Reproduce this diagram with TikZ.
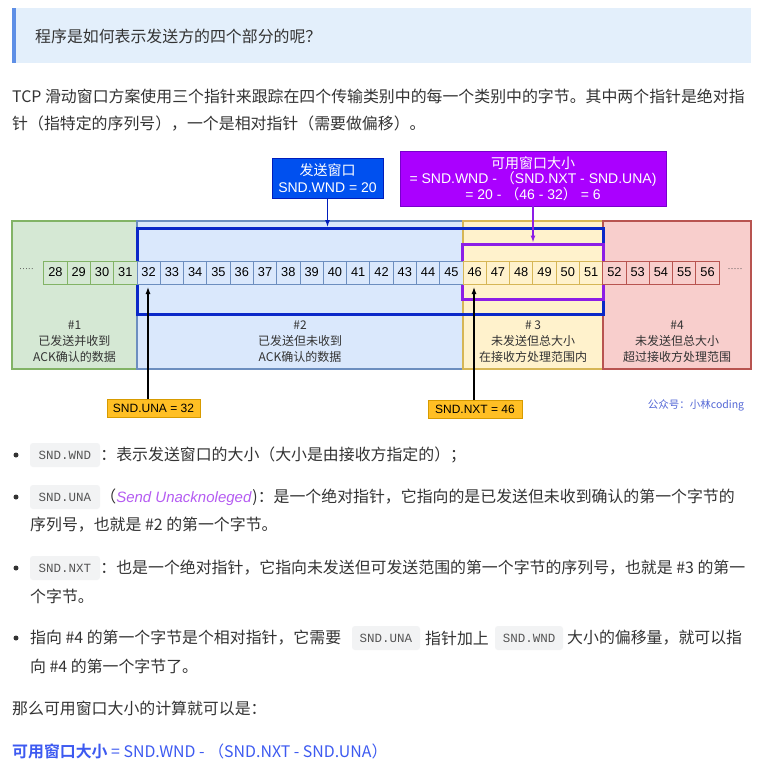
\documentclass[tikz,border=0pt]{standalone}
\usepackage{fontspec}
\setmainfont{Noto Sans CJK SC}[BoldFont={Noto Sans CJK SC Bold}]
\newfontfamily\cjk{Noto Sans CJK SC}[BoldFont={Noto Sans CJK SC Bold}]
\newfontfamily\arialf{Liberation Sans}
\newfontfamily\codef{Liberation Mono}
\usetikzlibrary{arrows.meta}
\newcommand\setfs[1]{\fontsize{#1}{#1}\selectfont}
\definecolor{bodytxt}{HTML}{333333}
\definecolor{hdrbg}{HTML}{E3EFFB}
\definecolor{hdrbar}{HTML}{5E8FE6}
\definecolor{gF}{HTML}{D5E8D4}\definecolor{gD}{HTML}{82B366}
\definecolor{bF}{HTML}{DAE8FC}\definecolor{bD}{HTML}{6C8EBF}
\definecolor{yF}{HTML}{FFF2CC}\definecolor{yD}{HTML}{D6B656}
\definecolor{rF}{HTML}{F8CECC}\definecolor{rD}{HTML}{B85450}
\definecolor{wndblue}{HTML}{0A28C8}
\definecolor{wndF}{HTML}{0050EF}\definecolor{wndD}{HTML}{001DBC}
\definecolor{purp}{HTML}{8C1EE6}
\definecolor{purF}{HTML}{AA00FF}\definecolor{purD}{HTML}{7700CC}
\definecolor{orF}{HTML}{FFBF24}\definecolor{orD}{HTML}{D79B00}
\definecolor{wm}{HTML}{5468D6}
\definecolor{codebg}{HTML}{F2F3F4}
\definecolor{codetxt}{HTML}{555555}
\definecolor{ital}{HTML}{B55CF2}
\definecolor{lastc}{HTML}{3D5AF1}
\begin{document}
\begin{tikzpicture}[x=1pt,y=-1pt,
  body/.style={anchor=west,inner sep=0pt,font=\setfs{15.9}\cjk,text=bodytxt},
  codebox/.style={fill=codebg,rounded corners=3pt,inner sep=0pt,minimum height=24pt,font=\setfs{12.5}\codef,text=codetxt},
  bulletdot/.style={circle,fill=bodytxt,inner sep=0pt,minimum size=5pt},
  region/.style={inner sep=0pt,line width=1.2pt},
  cellbox/.style={minimum width=23.29pt,minimum height=23pt,inner sep=0pt,font=\setfs{12.8}\arialf,text=black,line width=0.9pt},
  rtext/.style={align=center,inner sep=0pt,font=\fontsize{12}{16}\selectfont\cjk,text=bodytxt},
  lbl/.style={inner sep=0pt,text=white,align=center,line width=0.8pt},
  orlbl/.style={inner sep=0pt,fill=orF,draw=orD,line width=0.8pt,font=\setfs{12}\arialf,minimum height=18pt},
  ptr/.style={-{Latex[length=7pt,width=5pt]},line width=1.2pt,black},
  dots/.style={inner sep=0pt,font=\setfs{9}\arialf,text=black!70}
]
\useasboundingbox (0,0) rectangle (759,769);
\fill[white] (0,0) rectangle (759,769);
% header
\fill[hdrbg] (12,8) rectangle (751,63);
\fill[hdrbar] (12,8) rectangle (15.5,63);
\node[body] (hdr) at (35,36) {程序是如何表示发送方的四个部分的呢？};
\node[body] (p1) at (12,96) {TCP 滑动窗口方案使用三个指针来跟踪在四个传输类别中的每一个类别中的字节。其中两个指针是绝对指};
\node[body] (p2) at (12,124) {针（指特定的序列号），一个是相对指针（需要做偏移）。};
% regions
\node[region,fill=gF,draw=gD,minimum width=125pt,minimum height=148pt] (r1) at (74.5,295) {};
\node[region,fill=bF,draw=bD,minimum width=326pt,minimum height=148pt] (r2) at (300,295) {};
\node[region,fill=yF,draw=yD,minimum width=140pt,minimum height=148pt] (r3) at (533,295) {};
\node[region,fill=rF,draw=rD,minimum width=148pt,minimum height=148pt] (r4) at (677,295) {};
% window boxes
\node[draw=wndblue,line width=3pt,inner sep=0pt,minimum width=466pt,minimum height=85.5pt] (wnd) at (370,271.25) {};
\node[draw=purp,line width=3pt,inner sep=0pt,minimum width=140.5pt,minimum height=55pt] (avail) at (532.75,271.5) {};
% cells
\foreach \n in {28,...,31} \node[cellbox,fill=gF,draw=gD] (c\n) at ({55.445+(\n-28)*23.29},272.5) {\n};
\foreach \n in {32,...,45} \node[cellbox,fill=bF,draw=bD] (c\n) at ({55.445+(\n-28)*23.29},272.5) {\n};
\foreach \n in {46,...,51} \node[cellbox,fill=yF,draw=yD] (c\n) at ({55.445+(\n-28)*23.29},272.5) {\n};
\foreach \n in {52,...,56} \node[cellbox,fill=rF,draw=rD] (c\n) at ({55.445+(\n-28)*23.29},272.5) {\n};
\node[dots] (dl) at (26.5,270) {·····};
\node[dots] (dr) at (735,270) {·····};
% region texts
\node[rtext] (t1) at (74.5,342) {\#1\\已发送并收到\\ACK确认的数据};
\node[rtext] (t2) at (300,342) {\#2\\已发送但未收到\\ACK确认的数据};
\node[rtext] (t3) at (533,342) {\# 3\\未发送但总大小\\在接收方处理范围内};
\node[rtext] (t4) at (677,342) {\#4\\未发送但总大小\\超过接收方处理范围};
% labels
\node[lbl,fill=wndF,draw=wndD,minimum width=111pt,minimum height=40pt,font=\fontsize{14}{17}\selectfont\arialf] (wndlbl) at (327.5,178) {{\cjk 发送窗口}\\SND.WND = 20};
\node[lbl,fill=purF,draw=purD,minimum width=266pt,minimum height=55pt,font=\fontsize{14}{15.5}\selectfont\arialf] (availlbl) at (533,178.5) {{\cjk 可用窗口大小}\\= SND.WND - {\cjk （}SND.NXT - SND.UNA)\\= 20 - {\cjk （}46 - 32{\cjk ）} = 6};
\draw[-{Latex[length=7pt,width=5pt]},line width=1.3pt,wndD] (wndlbl.south) -- (wndlbl.south |- wnd.north);
\draw[-{Latex[length=7pt,width=5pt]},line width=1.3pt,purp] (availlbl.south) -- (availlbl.south |- avail.north);
\node[orlbl,minimum width=93pt] (una) at (153.5,408) {SND.UNA = 32};
\node[orlbl,minimum width=94pt] (nxt) at (475,409) {SND.NXT = 46};
\coordinate (unaTip) at (148,287);
\coordinate (nxtTip) at (474,287);
\draw[ptr] (una.north -| unaTip) -- (unaTip);
\draw[ptr] (nxt.north -| nxtTip) -- (nxtTip);
\node[inner sep=0pt,font=\setfs{10.5}\cjk,text=wm] (wmk) at (696,405) {公众号：小林coding};
% bullets
\node[bulletdot] (b1) at (16,455) {};
\node[codebox,minimum width=70pt] (k1) at (65,455) {SND.WND};
\node[body] (l1) at (k1.east) {：表示发送窗口的大小（大小是由接收方指定的）；};
\node[bulletdot] (b2) at (16,497) {};
\node[codebox,minimum width=70pt] (k2) at (65,497) {SND.UNA};
\node[body] (l2a) at (k2.east) {（{\arialf\itshape\setfs{15}\color{ital}Send Unacknoleged}\kern1pt)：是一个绝对指针，它指向的是已发送但未收到确认的第一个字节的};
\node[body] (l2b) at (30,525) {序列号，也就是 \#2 的第一个字节。};
\node[bulletdot] (b3) at (16,568) {};
\node[codebox,minimum width=70pt] (k3) at (65,568) {SND.NXT};
\node[body] (l3a) at (k3.east) {：也是一个绝对指针，它指向未发送但可发送范围的第一个字节的序列号，也就是 \#3 的第一};
\node[body] (l3b) at (30,596) {个字节。};
\node[bulletdot] (b4) at (16,638) {};
\node[body] (l4a) at (30,638) {指向 \#4 的第一个字节是个相对指针，它需要};
\node[codebox,minimum width=68pt] (k4a) at (386,638) {SND.UNA};
\node[body] (l4b) at (425,638) {指针加上};
\node[codebox,minimum width=68pt] (k4b) at (529,638) {SND.WND};
\node[body] (l4c) at (567,638) {大小的偏移量，就可以指};
\node[body] (l4d) at (30,666) {向 \#4 的第一个字节了。};
\node[body] (p3) at (12,708) {那么可用窗口大小的计算就可以是：};
\node[body,text=lastc] (p4) at (12,751) {{\bfseries 可用窗口大小} = SND.WND - （SND.NXT - SND.UNA）};
\end{tikzpicture}
\end{document}
